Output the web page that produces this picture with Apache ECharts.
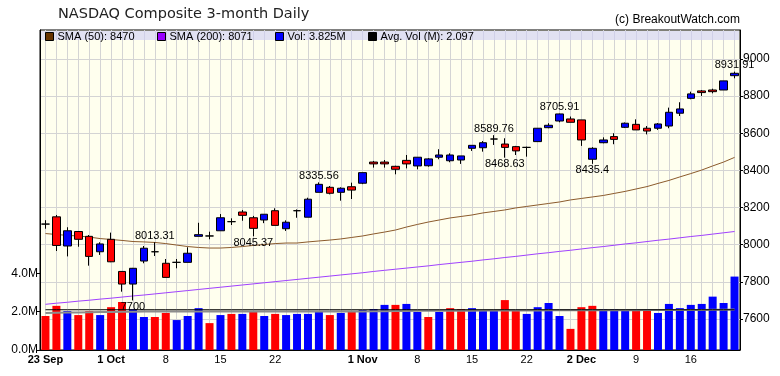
<!DOCTYPE html>
<html>
<head>
<meta charset="utf-8">
<script src="https://cdn.jsdelivr.net/npm/echarts@6/dist/echarts.min.js"></script>
<style>
  html, body { margin: 0; padding: 0; background: #fff; }
  #chart { width: 780px; height: 376px; }
</style>
</head>
<body>
<div id="chart"></div>
<script>
// trading days
const dates = [
  '2019-09-23','2019-09-24','2019-09-25','2019-09-26','2019-09-27',
  '2019-09-30','2019-10-01','2019-10-02','2019-10-03','2019-10-04',
  '2019-10-07','2019-10-08','2019-10-09','2019-10-10','2019-10-11',
  '2019-10-14','2019-10-15','2019-10-16','2019-10-17','2019-10-18',
  '2019-10-21','2019-10-22','2019-10-23','2019-10-24','2019-10-25',
  '2019-10-28','2019-10-29','2019-10-30','2019-10-31','2019-11-01',
  '2019-11-04','2019-11-05','2019-11-06','2019-11-07','2019-11-08',
  '2019-11-11','2019-11-12','2019-11-13','2019-11-14','2019-11-15',
  '2019-11-18','2019-11-19','2019-11-20','2019-11-21','2019-11-22',
  '2019-11-25','2019-11-26','2019-11-27','2019-11-29',
  '2019-12-02','2019-12-03','2019-12-04','2019-12-05','2019-12-06',
  '2019-12-09','2019-12-10','2019-12-11','2019-12-12','2019-12-13',
  '2019-12-16','2019-12-17','2019-12-18','2019-12-19','2019-12-20'
];

// [open, close, low, high]
const ohlc = [
  [8111, 8111, 8086, 8132], [8150, 7996, 7966, 8160], [7993, 8075, 7937, 8094], [8071, 8029, 7989, 8072],
  [8045, 7937, 7887, 8052], [7962, 8004, 7945, 8013], [8029, 7908, 7906, 8065], [7856, 7788, 7747, 7858],
  [7788, 7873, 7700, 7875], [7912, 7981, 7900, 7993], [7962, 7962, 7939, 8013.31], [7900, 7824, 7824, 7923],
  [7905, 7905, 7873, 7923], [7905, 7954, 7905, 7986], [8045, 8054, 8045, 8118], [8047, 8047, 8029, 8070],
  [8075, 8145, 8075, 8165], [8124, 8124, 8106, 8142], [8176, 8158, 8129, 8187], [8145, 8088, 8045.37, 8155],
  [8133, 8164, 8116, 8164], [8183, 8104, 8104, 8196], [8086, 8121, 8074, 8131], [8183, 8183, 8145, 8190],
  [8148, 8245, 8148, 8253], [8282, 8325, 8282, 8335.56], [8309, 8277, 8271, 8316], [8282, 8304, 8237, 8309],
  [8312, 8294, 8246, 8334], [8331, 8388, 8326, 8388], [8445, 8435, 8415, 8451], [8445, 8435, 8415, 8456],
  [8422, 8406, 8379, 8425], [8454, 8435, 8411, 8483], [8424, 8471, 8406, 8471], [8425, 8462, 8420, 8466],
  [8471, 8483, 8460, 8514], [8452, 8483, 8444, 8492], [8456, 8478, 8435, 8478], [8519, 8535, 8505, 8535],
  [8522, 8549, 8501, 8558], [8569, 8569, 8537, 8589.76], [8542, 8524, 8468.63, 8573], [8528, 8505, 8483, 8532],
  [8524, 8524, 8474, 8528], [8555, 8627, 8555, 8627], [8630, 8643, 8627, 8654], [8666, 8704, 8659, 8705.91],
  [8677, 8659, 8659, 8690], [8672, 8564, 8532, 8672], [8460, 8519, 8435.4, 8525], [8549, 8564, 8546, 8578],
  [8582, 8567, 8541, 8600], [8632, 8654, 8628, 8658], [8648, 8618, 8618, 8675], [8627, 8612, 8594, 8639],
  [8627, 8650, 8618, 8655], [8639, 8713, 8627, 8738], [8708, 8731, 8693, 8767], [8788, 8812, 8783, 8824],
  [8828, 8819, 8801, 8833], [8833, 8824, 8815, 8840], [8833, 8882, 8833, 8882], [8910, 8923, 8896, 8931.91]
];

const sma50 = [
  8060, 8055, 8050, 8047, 8041, 8033, 8028, 8023, 8017, 8015,
  8012, 8006, 7998, 7990, 7985, 7982, 7982, 7985, 7990, 7996,
  8001, 8006, 8009, 8009, 8015, 8020, 8025, 8031, 8039, 8047,
  8058, 8068, 8079, 8095, 8109, 8122, 8133, 8144, 8152, 8160,
  8171, 8179, 8187, 8198, 8206, 8214, 8222, 8230, 8241, 8249,
  8257, 8265, 8276, 8287, 8300, 8313, 8330, 8346, 8365, 8383,
  8402, 8424, 8445, 8470
];

const sma200 = [
  7679, 7685, 7690, 7696, 7701, 7707, 7712, 7718, 7724, 7729,
  7735, 7741, 7747, 7753, 7759, 7765, 7771, 7777, 7783, 7789,
  7795, 7801, 7807, 7813, 7819, 7825, 7831, 7837, 7843, 7849,
  7856, 7862, 7868, 7874, 7880, 7886, 7893, 7899, 7905, 7911,
  7918, 7924, 7931, 7937, 7944, 7951, 7957, 7964, 7970, 7977,
  7984, 7990, 7997, 8004, 8010, 8017, 8024, 8030, 8037, 8044,
  8050, 8057, 8064, 8071
];

// volume in millions, and whether the day closed up (1) or down (0)
const volume = [
  1.77, 2.30, 2.03, 1.82, 2.03, 1.82, 2.23, 2.50, 2.12, 1.72,
  1.72, 1.93, 1.56, 1.77, 2.18, 1.40, 1.82, 1.88, 1.88, 2.03,
  1.77, 1.88, 1.82, 1.88, 1.88, 1.98, 1.82, 1.93, 1.98, 2.08,
  2.13, 2.35, 2.35, 2.40, 1.98, 1.72, 1.98, 2.18, 2.13, 2.18,
  2.03, 2.08, 2.60, 2.08, 1.88, 2.23, 2.45, 1.77, 1.10, 2.23,
  2.30, 2.13, 2.13, 2.08, 2.08, 2.08, 1.93, 2.40, 2.18, 2.35,
  2.40, 2.78, 2.45, 3.825
];
const volUp = [
  0, 0, 1, 0, 0, 1, 0, 0, 1, 1,
  0, 0, 1, 1, 1, 0, 1, 0, 1, 0,
  1, 0, 1, 1, 1, 1, 0, 1, 0, 1,
  1, 1, 0, 1, 1, 0, 1, 0, 0, 1,
  1, 1, 0, 0, 1, 1, 1, 1, 0, 0,
  0, 1, 1, 1, 0, 0, 1, 1, 1, 1,
  1, 1, 1, 1
];
const volAvg50 = [
  1.93, 1.94, 1.95, 1.96, 1.97, 1.98, 1.98, 1.99, 1.99, 2.0,
  2.0, 2.0, 2.0, 2.0, 2.0, 2.0, 2.0, 2.0, 2.0, 2.0,
  2.0, 2.0, 2.0, 2.0, 2.0, 2.0, 2.01, 2.01, 2.01, 2.01,
  2.02, 2.02, 2.03, 2.03, 2.04, 2.04, 2.05, 2.05, 2.05, 2.05,
  2.06, 2.06, 2.06, 2.06, 2.06, 2.06, 2.07, 2.07, 2.07, 2.07,
  2.07, 2.07, 2.07, 2.07, 2.07, 2.08, 2.08, 2.08, 2.08, 2.09,
  2.09, 2.10, 2.10, 2.11
];
const avgVol = 2.097;

const xTickDates = ['2019-09-23','2019-10-01','2019-10-08','2019-10-15','2019-10-22','2019-11-01',
  '2019-11-08','2019-11-15','2019-11-22','2019-12-02','2019-12-09','2019-12-16'];
const xTickLabels = ['23 Sep','1 Oct','8','15','22','1 Nov','8','15','22','2 Dec','9','16'];
const priceTicks = [7600, 7800, 8000, 8200, 8400, 8600, 8800, 9000];
const volTicks = [0, 2, 4];

// annotated highs / lows
const markIdx = [8, 10, 19, 25, 41, 42, 47, 50, 63];
const markSide = ['low', 'high', 'low', 'high', 'high', 'low', 'high', 'low', 'high'];

const last = (a) => a[a.length - 1];
const nameSma50 = 'SMA (50): ' + last(sma50);
const nameSma200 = 'SMA (200): ' + last(sma200);
const nameVol = 'Vol: ' + last(volume) + 'M';
const nameAvg = 'Avg. Vol (M): ' + avgVol;

const FONT = 'Liberation Sans';
const UP = '#0000ff', DOWN = '#ff0000';
const GRIDLINE = '#d4d4d4';

const chart = echarts.init(document.getElementById('chart'), null, { renderer: 'canvas' });

const legendBase = {
  top: 31, itemWidth: 8, itemHeight: 8, icon: 'rect', padding: 0, itemGap: 0,
  selectedMode: false, z: 10,
  itemStyle: { borderColor: '#000', borderWidth: 1 },
  lineStyle: { width: 0 },
  textStyle: { fontFamily: FONT, fontSize: 11, color: '#000', padding: [0, 0, 0, -1] }
};

const option = {
  animation: false,
  backgroundColor: '#fff',
  title: [
    {
      text: 'NASDAQ Composite 3-month Daily', left: 58, top: 7, padding: 0,
      textStyle: { fontFamily: 'DejaVu Sans', fontSize: 14.5, fontWeight: 'normal', color: '#222' }
    },
    {
      text: '(c) BreakoutWatch.com', right: 40, top: 14, padding: 0,
      textStyle: { fontFamily: FONT, fontSize: 12, fontWeight: 'normal', color: '#000' }
    }
  ],
  legend: [
    Object.assign({}, legendBase, { left: 45, data: [{ name: nameSma50, itemStyle: { color: '#663300' } }] }),
    Object.assign({}, legendBase, { left: 157, data: [{ name: nameSma200, itemStyle: { color: '#9900ff' } }] }),
    Object.assign({}, legendBase, { left: 275, data: [{ name: nameVol, itemStyle: { color: UP } }] }),
    Object.assign({}, legendBase, { left: 368, data: [{ name: nameAvg, itemStyle: { color: '#000' } }] })
  ],
  graphic: [
    {
      // legend band
      type: 'rect', z: 9.5, silent: true,
      shape: { x: 41, y: 31, width: 698, height: 9 },
      style: { fill: 'rgba(205,205,245,0.6)' }
    }
  ],
  grid: {
    left: 40, right: 40, top: 30, bottom: 26,
    show: true, backgroundColor: '#ffffee', borderColor: '#000', borderWidth: 1
  },
  xAxis: {
    type: 'category', data: dates, boundaryGap: true, z: 6,
    axisLine: { lineStyle: { color: '#000', width: 1 } },
    axisTick: {
      alignWithLabel: true, length: 4, lineStyle: { color: '#000' },
      interval: (i, v) => xTickDates.indexOf(v) >= 0
    },
    axisLabel: {
      margin: 4, fontFamily: FONT, fontSize: 11, color: '#000',
      interval: (i, v) => xTickDates.indexOf(v) >= 0,
      formatter: (v) => {
        const t = xTickLabels[xTickDates.indexOf(v)];
        return /[A-Za-z]/.test(t) ? '{b|' + t + '}' : t;
      },
      rich: { b: { fontFamily: FONT, fontSize: 11, fontWeight: 'bold', color: '#000' } }
    },
    splitLine: { show: false }
  },
  yAxis: [
    {
      type: 'value', position: 'right', min: 7433, max: 9156, z: 6,
      axisLine: { show: true, lineStyle: { color: '#000' } },
      axisTick: { show: true, length: 3, customValues: priceTicks, lineStyle: { color: '#000' } },
      axisLabel: {
        margin: 3, fontFamily: FONT, fontSize: 12, color: '#000', customValues: priceTicks,
        formatter: (v) => String(v)
      },
      splitLine: { show: false }
    },
    {
      type: 'value', position: 'left', min: 0, max: 16.67, z: 6,
      axisLine: { show: true, lineStyle: { color: '#000' } },
      axisTick: { show: true, length: 4, customValues: volTicks, lineStyle: { color: '#000' } },
      axisLabel: {
        margin: 2, fontFamily: FONT, fontSize: 12, color: '#000', customValues: volTicks,
        formatter: (v) => v.toFixed(1) + 'M'
      },
      splitLine: { show: false }
    }
  ],
  series: [
    {
      // gridlines: one per trading day and one per price tick, above the plot fill, under the marks
      name: 'grid', type: 'line', xAxisIndex: 0, yAxisIndex: 0, data: [], z: 5, silent: true,
      markLine: {
        z: 5, silent: true, symbol: ['none', 'none'], animation: false,
        label: { show: false },
        emphasis: { disabled: true },
        lineStyle: { color: GRIDLINE, width: 1, type: 'solid' },
        data: dates.map((d) => ({ xAxis: d })).concat(priceTicks.map((v) => ({ yAxis: v })))
      }
    },
    {
      name: nameVol, type: 'bar', xAxisIndex: 0, yAxisIndex: 1, barWidth: 8, z: 6,
      data: volume.map((v, i) => ({ value: v, itemStyle: { color: volUp[i] ? UP : DOWN } }))
    },
    {
      name: 'Price', type: 'candlestick', xAxisIndex: 0, yAxisIndex: 0, barWidth: 8, z: 8,
      data: ohlc,
      itemStyle: {
        color: UP, color0: DOWN, borderColor: '#000', borderColor0: '#000',
        borderColorDoji: '#000', borderWidth: 1
      },
      markPoint: {
        z: 9, symbol: 'circle', symbolSize: 0, silent: true,
        itemStyle: { color: 'transparent' },
        data: markIdx.map((k, j) => ({
          coord: [dates[k], markSide[j] === 'high' ? ohlc[k][3] : ohlc[k][2]],
          value: markSide[j] === 'high' ? ohlc[k][3] : ohlc[k][2],
          label: {
            show: true, position: markSide[j] === 'high' ? 'top' : 'bottom', distance: 1,
            fontFamily: FONT, fontSize: 11, color: '#000', formatter: (p) => String(p.value)
          }
        }))
      }
    },
    {
      name: nameSma50, type: 'line', xAxisIndex: 0, yAxisIndex: 0, data: sma50, showSymbol: false, z: 7,
      lineStyle: { color: '#8b5a2b', width: 1 }, itemStyle: { color: '#663300' }
    },
    {
      name: nameSma200, type: 'line', xAxisIndex: 0, yAxisIndex: 0, data: sma200, showSymbol: false, z: 7,
      lineStyle: { color: '#a040ff', width: 1 }, itemStyle: { color: '#9900ff' }
    },
    {
      name: 'VolAvg', type: 'line', xAxisIndex: 0, yAxisIndex: 1, data: volAvg50, showSymbol: false, z: 7,
      lineStyle: { color: '#8c8c8c', width: 2 }
    },
    {
      name: nameAvg, type: 'line', xAxisIndex: 0, yAxisIndex: 1, data: volume.map(() => avgVol),
      showSymbol: false, z: 7,
      lineStyle: { color: '#000', width: 1 }, itemStyle: { color: '#000' }
    }
  ]
};

chart.setOption(option);
</script>
</body>
</html>
